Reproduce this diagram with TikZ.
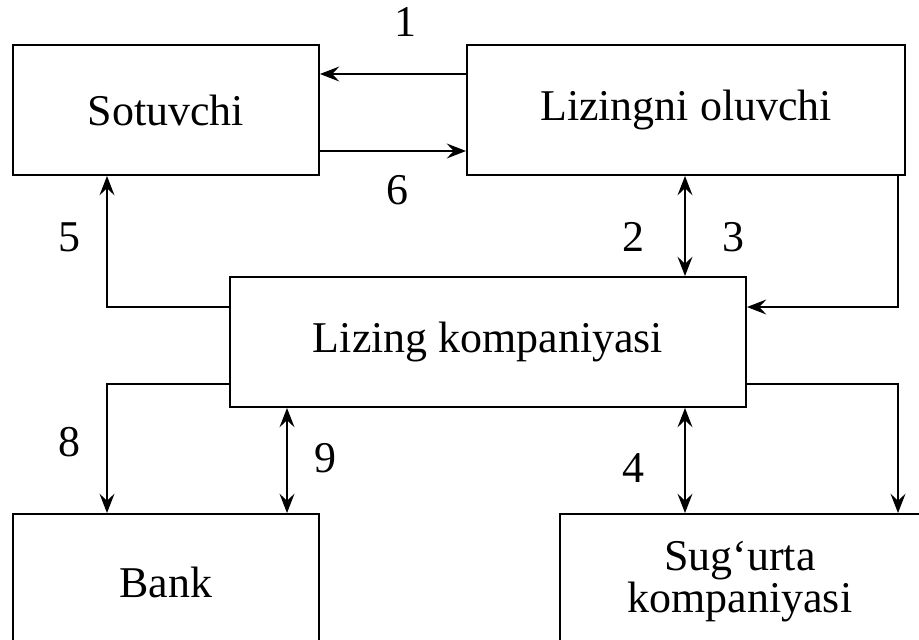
\documentclass[tikz,border=0pt]{standalone}
\usepackage{fontspec}
\setmainfont{Liberation Serif}
\usetikzlibrary{arrows.meta}
\newcommand{\pxu}{0.02cm}

\begin{document}
\begin{tikzpicture}[x=0.02cm,y=-0.02cm,
    box/.style={draw,fill=white,line width=1.1pt,inner sep=0pt,align=center,
                font=\fontsize{25}{24}\selectfont},
    arr/.style={-{Stealth[length=11pt,width=8.5pt,inset=4pt]},line width=1pt},
    darr/.style={{Stealth[length=11pt,width=8.5pt,inset=4pt]}-{Stealth[length=11pt,width=8.5pt,inset=4pt]},line width=1pt},
    num/.style={font=\fontsize{25}{30}\selectfont}]
  % the scan is cut at its lower edge
  \clip (0,0) rectangle (919,639);

  % boxes
  \node[box,minimum width=306*\pxu,minimum height=130*\pxu] (sot) at (166,110) {Sotuvchi};
  \node[box,minimum width=438*\pxu,minimum height=130*\pxu] (lo) at (686,110) {Lizingni oluvchi};
  \node[box,minimum width=516*\pxu,minimum height=130*\pxu] (lk) at (488,342) {Lizing kompaniyasi};
  \node[box,minimum width=306*\pxu,minimum height=136*\pxu] (bank) at (166,582) {Bank};
  \node[box,minimum width=360*\pxu,minimum height=136*\pxu] (sug) at (740,582) {Sug‘urta\\kompaniyasi};

  % levels of the connectors
  \coordinate (ya) at (0,74);
  \coordinate (yb) at (0,151);
  \coordinate (yc) at (0,307);
  \coordinate (yd) at (0,384);
  \coordinate (xl) at (107,0);
  \coordinate (xm) at (287,0);
  \coordinate (xc) at (685,0);
  \coordinate (xr) at (898,0);

  % top row
  \draw[arr] (lo.west |- ya) -- (sot.east |- ya);
  \draw[arr] (sot.east |- yb) -- (lo.west |- yb);
  \draw[darr] (lo.south -| xc) -- (lk.north -| xc);
  \draw[arr] (lo.south -| xr) |- (lk.east |- yc);
  \draw[arr] (lk.west |- yc) -| (sot.south -| xl);
  % bottom row
  \draw[arr] (lk.west |- yd) -| (bank.north -| xl);
  \draw[darr] (lk.south -| xm) -- (bank.north -| xm);
  \draw[darr] (lk.south -| xc) -- (sug.north -| xc);
  \draw[arr] (lk.east |- yd) -| (sug.north -| xr);

  % numbers
  \draw (405,22) node[num] (n1) {1};
  \draw (397,190) node[num] (n6) {6};
  \draw (69,237) node[num] (n5) {5};
  \draw (633,237) node[num] (n2) {2};
  \draw (733,237) node[num] (n3) {3};
  \draw (69,442) node[num] (n8) {8};
  \draw (325,458) node[num] (n9) {9};
  \draw (633,468) node[num] (n4) {4};
\end{tikzpicture}
\end{document}
